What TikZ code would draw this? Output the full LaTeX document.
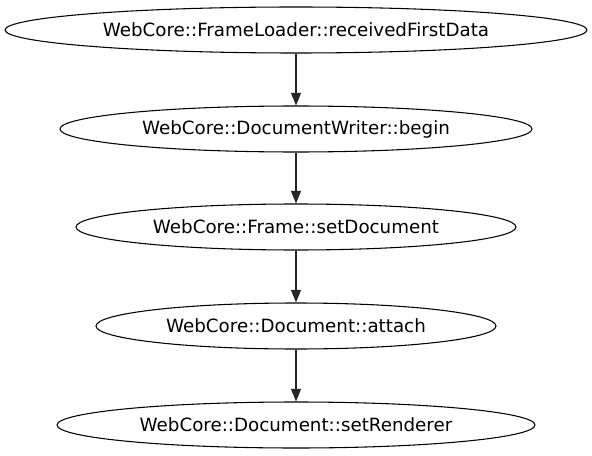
\documentclass[tikz,border=0pt]{standalone}
\usepackage{fontspec}
\setmainfont{DejaVu Sans}
\usetikzlibrary{shapes.geometric,arrows.meta}
\begin{document}
\begin{tikzpicture}[x=0.75pt,y=-0.75pt,
  fn/.style={draw=black,line width=0.8pt,ellipse,inner sep=0pt,minimum height=34.5pt,font=\fontsize{13.7pt}{16pt}\selectfont},
  conn/.style={draw=black!85,line width=1pt,-{Triangle[length=9.5pt,width=7.5pt]}}]
\useasboundingbox (0,0) rectangle (592,456);
\node[fn,minimum width=436.5pt] (a) at (296,30) {WebCore::FrameLoader::receivedFirstData};
\node[fn,minimum width=354pt] (b) at (296,129) {WebCore::DocumentWriter::begin};
\node[fn,minimum width=330pt] (c) at (296,227) {WebCore::Frame::setDocument};
\node[fn,minimum width=300pt] (d) at (296,326) {WebCore::Document::attach};
\node[fn,minimum width=358.5pt] (e) at (296,425) {WebCore::Document::setRenderer};
\draw[conn] (a) -- (b);
\draw[conn] (b) -- (c);
\draw[conn] (c) -- (d);
\draw[conn] (d) -- (e);
\end{tikzpicture}
\end{document}
